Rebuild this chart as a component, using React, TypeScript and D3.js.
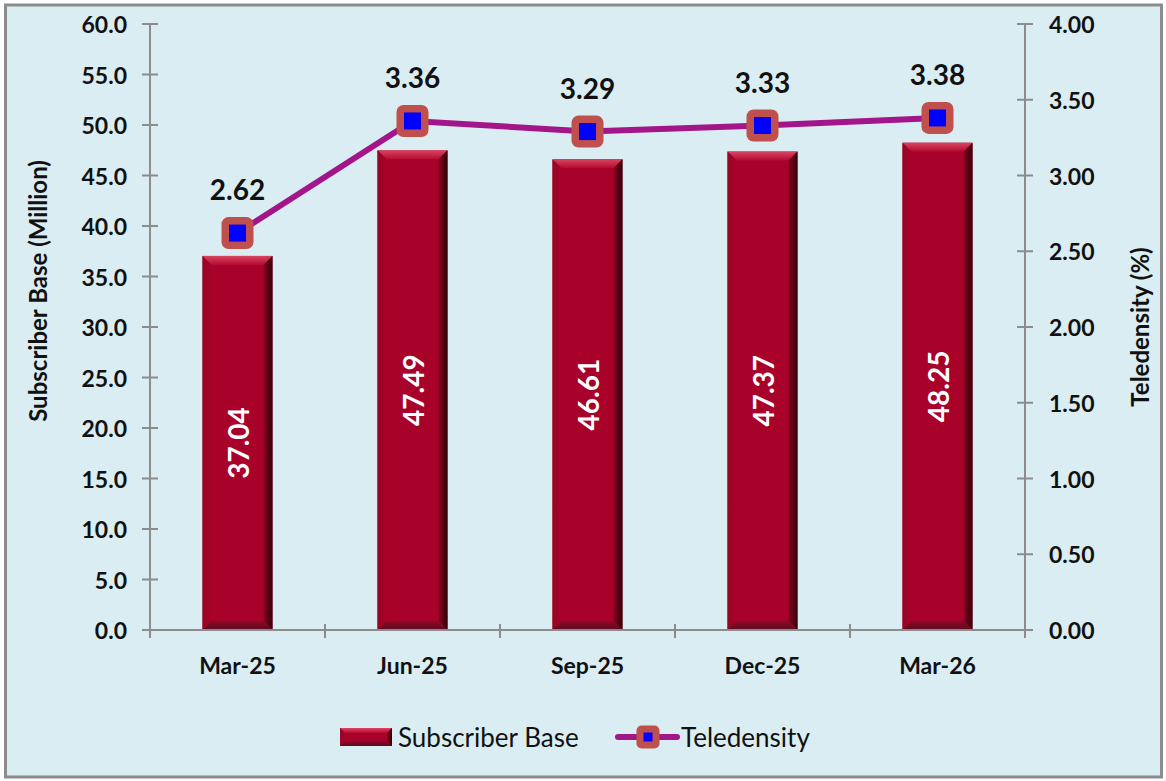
import React from 'react';
import * as d3 from 'd3';

const quarters = ['Mar-25', 'Jun-25', 'Sep-25', 'Dec-25', 'Mar-26'];
const subscriberBase = [37.04, 47.49, 46.61, 47.37, 48.25];
const teledensity = [2.62, 3.36, 3.29, 3.33, 3.38];
const leftTicks = [0, 5, 10, 15, 20, 25, 30, 35, 40, 45, 50, 55, 60];
const rightTicks = [0, 0.5, 1, 1.5, 2, 2.5, 3, 3.5, 4];

const W = 1166;
const H = 781;
const FONT = 'Lato, "Open Sans", sans-serif';
const AXIS = '#8c8c8c';
const LINE = '#a3168a';
const MARK = '#c0504d';

function Bar({ x, y, w, h, b = 9 }: { x: number; y: number; w: number; h: number; b?: number }) {
  // bevelled bar like the Excel "relaxed inset" effect
  return (
    <g>
      <rect x={x} y={y} width={w} height={h} fill="#a8022a" />
      <polygon points={`${x},${y} ${x + w},${y} ${x + w - b},${y + b} ${x + b},${y + b}`} fill="url(#bevTop)" />
      <polygon points={`${x},${y} ${x + b},${y + b} ${x + b},${y + h - b} ${x},${y + h}`} fill="url(#bevLeft)" />
      <polygon points={`${x + w},${y} ${x + w},${y + h} ${x + w - b},${y + h - b} ${x + w - b},${y + b}`} fill="url(#bevRight)" />
      <polygon points={`${x},${y + h} ${x + b},${y + h - b} ${x + w - b},${y + h - b} ${x + w},${y + h}`} fill="url(#bevBottom)" />
    </g>
  );
}

function Marker({ cx, cy, s, inner }: { cx: number; cy: number; s: number; inner: number }) {
  return (
    <g>
      <rect x={cx - s / 2} y={cy - s / 2} width={s} height={s} rx={s * 0.22} fill={MARK} />
      <rect x={cx - inner / 2} y={cy - inner / 2} width={inner} height={inner} fill="#0000ff" />
    </g>
  );
}

export default function App() {
  const left = 150;
  const right = 1025;
  const top = 24;
  const bottom = 630;

  const x = d3.scaleBand<string>().domain(quarters).range([left, right]).paddingInner(0.6).paddingOuter(0.3);
  const yL = d3.scaleLinear().domain([0, 60]).range([bottom, top]);
  const yR = d3.scaleLinear().domain([0, 4]).range([bottom, top]);

  const line = d3
    .line<number>()
    .x((_, i) => (x(quarters[i]) ?? 0) + x.bandwidth() / 2)
    .y(d => yR(d));

  const step = x.step();
  const catTicks = d3.range(quarters.length + 1).map(i => left + i * step);

  return (
    <svg width={W} height={H} style={{ position: 'absolute', left: 0, top: 0, fontFamily: FONT }}>
      <defs>
        <linearGradient id="bevTop" x1="0" y1="0" x2="0" y2="1">
          <stop offset="0" stopColor="#d84560" />
          <stop offset="1" stopColor="#b40a33" />
        </linearGradient>
        <linearGradient id="bevLeft" x1="0" y1="0" x2="1" y2="0">
          <stop offset="0" stopColor="#940626" />
          <stop offset="1" stopColor="#a8022a" />
        </linearGradient>
        <linearGradient id="bevRight" x1="0" y1="0" x2="1" y2="0">
          <stop offset="0" stopColor="#8a0020" />
          <stop offset="1" stopColor="#300008" />
        </linearGradient>
        <linearGradient id="bevBottom" x1="0" y1="0" x2="0" y2="1">
          <stop offset="0" stopColor="#8e0a2a" />
          <stop offset="1" stopColor="#5a0a1c" />
        </linearGradient>
      </defs>

      <rect x={0} y={0} width={W} height={H} fill="#ffffff" />
      <rect x={5.5} y={5} width={1156} height={772} fill="#daedf3" stroke={AXIS} strokeWidth={3} />

      {/* bars */}
      {subscriberBase.map((v, i) => (
        <Bar key={i} x={x(quarters[i]) ?? 0} y={yL(v)} w={x.bandwidth()} h={bottom - yL(v)} />
      ))}

      {/* axes */}
      <g stroke={AXIS} strokeWidth={2}>
        <line x1={left} x2={left} y1={top} y2={bottom + 8} />
        <line x1={right} x2={right} y1={top} y2={bottom + 8} />
        <line x1={left - 8} x2={right + 8} y1={bottom} y2={bottom} />
        {leftTicks.map(t => (
          <line key={'l' + t} x1={left - 8} x2={left + 8} y1={yL(t)} y2={yL(t)} />
        ))}
        {rightTicks.map(t => (
          <line key={'r' + t} x1={right - 8} x2={right + 8} y1={yR(t)} y2={yR(t)} />
        ))}
        {catTicks.map((t, i) => (
          <line key={'c' + i} x1={t} x2={t} y1={bottom - 6} y2={bottom + 8} />
        ))}
      </g>

      <g fontSize={23} fontWeight={700} fill="#111">
        {leftTicks.map(t => (
          <text key={'lt' + t} x={127} y={yL(t)} textAnchor="end" dominantBaseline="central">
            {d3.format('.1f')(t)}
          </text>
        ))}
        {rightTicks.map(t => (
          <text key={'rt' + t} x={1049} y={yR(t)} textAnchor="start" dominantBaseline="central">
            {d3.format('.2f')(t)}
          </text>
        ))}
        {quarters.map(q => (
          <text key={q} x={(x(q) ?? 0) + x.bandwidth() / 2} y={665} textAnchor="middle" dominantBaseline="central" fontSize={23}>
            {q}
          </text>
        ))}
      </g>

      {/* axis titles */}
      <text transform="translate(37,291) rotate(-90)" textAnchor="middle" dominantBaseline="central" fontSize={24} fontWeight={700} fill="#111">
        Subscriber Base (Million)
      </text>
      <text transform="translate(1139,327) rotate(-90)" textAnchor="middle" dominantBaseline="central" fontSize={24} fontWeight={700} fill="#111">
        Teledensity (%)
      </text>

      {/* bar value labels */}
      {subscriberBase.map((v, i) => {
        const cx = (x(quarters[i]) ?? 0) + x.bandwidth() / 2;
        const cy = (yL(v) + bottom) / 2;
        return (
          <text key={'bv' + i} transform={`translate(${cx},${cy}) rotate(-90)`} textAnchor="middle" dominantBaseline="central" fontSize={28} fontWeight={700} fill="#ffffff">
            {v.toFixed(2)}
          </text>
        );
      })}

      {/* teledensity line */}
      <path d={line(teledensity) ?? ''} fill="none" stroke={LINE} strokeWidth={6} />
      {teledensity.map((v, i) => {
        const cx = (x(quarters[i]) ?? 0) + x.bandwidth() / 2;
        const cy = yR(v);
        return (
          <g key={'m' + i}>
            <Marker cx={cx} cy={cy} s={32} inner={17} />
            <text x={cx} y={cy - 33} textAnchor="middle" fontSize={28} fontWeight={700} fill="#111">
              {v.toFixed(2)}
            </text>
          </g>
        );
      })}

      {/* legend */}
      <Bar x={340} y={728} w={52} h={18} b={5} />
      <text x={398} y={737} dominantBaseline="central" fontSize={26} fill="#111">
        Subscriber Base
      </text>
      <line x1={618} x2={677} y1={737} y2={737} stroke={LINE} strokeWidth={6} strokeLinecap="round" />
      <Marker cx={648} cy={737} s={23} inner={9} />
      <text x={681} y={737} dominantBaseline="central" fontSize={26} fill="#111">
        Teledensity
      </text>
    </svg>
  );
}
